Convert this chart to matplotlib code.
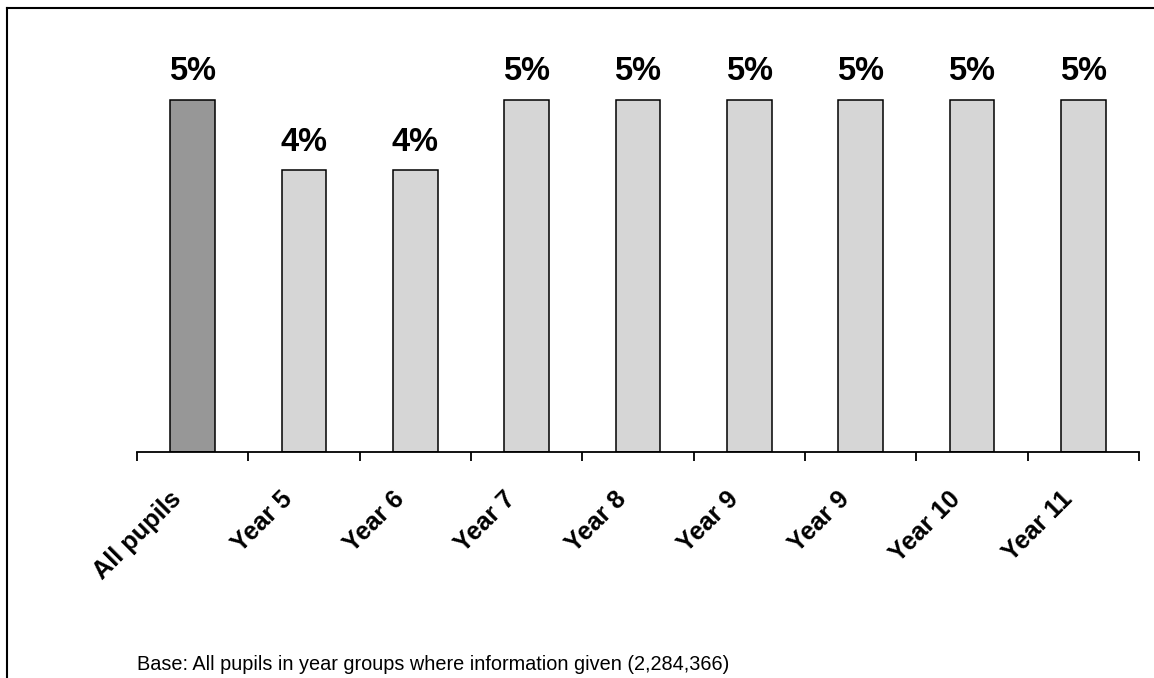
import matplotlib
matplotlib.use("Agg")
import matplotlib.pyplot as plt
from matplotlib.lines import Line2D
from matplotlib.transforms import ScaledTranslation
import numpy as np

categories = ["All pupils", "Year 5", "Year 6", "Year 7", "Year 8", "Year 9", "Year 9", "Year 10", "Year 11"]
values = [5, 4, 4, 5, 5, 5, 5, 5, 5]
value_labels = ["5%", "4%", "4%", "5%", "5%", "5%", "5%", "5%", "5%"]
base_note = "Base: All pupils in year groups where information given (2,284,366)"

plt.rcParams['font.family'] = ['Liberation Sans', 'DejaVu Sans']

W, H, DPI = 1154, 678, 100
fig = plt.figure(figsize=(W / DPI, H / DPI), dpi=DPI)
fig.patch.set_facecolor("white")

ax = fig.add_axes([137 / W, (H - 452) / H, (1139 - 137) / W, (452 - 29.6) / H])
x = np.arange(len(categories))
colors = ["#979797"] + ["#d6d6d6"] * (len(categories) - 1)
ax.bar(x, values, width=0.4, color=colors, edgecolor="black", linewidth=1.1, zorder=2)

for xi, v, lab in zip(x, values, value_labels):
    ax.annotate(lab, (xi, v), xytext=(0, 9), textcoords="offset points",
                ha="center", va="bottom", fontsize=23.5, fontweight="bold")

ax.set_xlim(-0.5, len(categories) - 0.5)
ax.set_ylim(0, 6)
for s in ["top", "right", "left"]:
    ax.spines[s].set_visible(False)
ax.spines["bottom"].set_linewidth(1.3)
ax.set_yticks([])

ax.set_xticks(np.arange(len(categories) + 1) - 0.5)
ax.set_xticklabels([])
ax.tick_params(axis="x", which="major", direction="out", length=6.5, width=1.3)
ax.set_xticks(x, minor=True)
ax.set_xticklabels(categories, minor=True, rotation=45, ha="right", va="center",
                   rotation_mode="anchor", fontsize=18.2, fontweight="bold")
ax.tick_params(axis="x", which="minor", length=0, pad=0)
off = ScaledTranslation(-15 / DPI, -43 / DPI, fig.dpi_scale_trans)
for lbl in ax.xaxis.get_minorticklabels():
    lbl.set_transform(lbl.get_transform() + off)

fig.text(137 / W, (H - 665) / H, base_note, ha="left", va="center", fontsize=14.3)

fig.add_artist(Line2D([7 / W, 7 / W], [0, 1 - 8 / H], transform=fig.transFigure, color="black", linewidth=1.5))
fig.add_artist(Line2D([7 / W, 1], [1 - 8 / H, 1 - 8 / H], transform=fig.transFigure, color="black", linewidth=1.5))

fig.savefig("out.png", dpi=DPI, facecolor="white")
